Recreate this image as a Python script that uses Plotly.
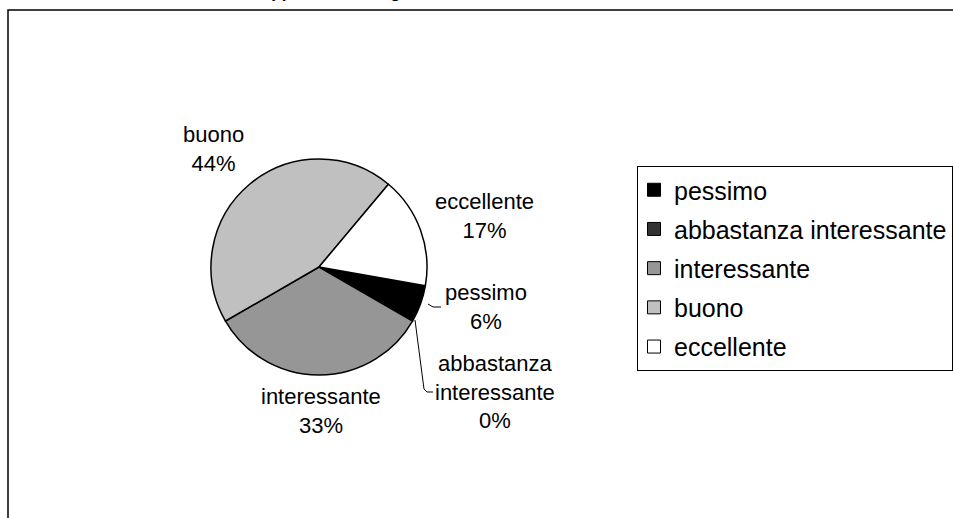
import plotly.graph_objects as go

labels = ["pessimo", "abbastanza interessante", "interessante", "buono", "eccellente"]
counts = [1, 0, 6, 8, 3]
colors = ["#000000", "#333333", "#969696", "#c0c0c0", "#ffffff"]
title_text = "Apprezzamento generale"

W, H = 953, 518
FONT = "Arial, Liberation Sans, sans-serif"


def px(x, y):
    # pixel position -> paper coords (margins are zero)
    return x / W, 1 - y / H


total = sum(counts)
pct = [round(100 * c / total) for c in counts]

fig = go.Figure()

cx, cy, r = 319, 267, 108
fig.add_trace(go.Pie(
    labels=labels, values=counts, sort=False, direction="clockwise",
    rotation=100, textinfo="none", showlegend=False, hoverinfo="label+percent",
    marker=dict(colors=colors, line=dict(color="black", width=1.5)),
    domain=dict(x=[(cx - r) / W, (cx + r) / W], y=[(H - cy - r) / H, (H - cy + r) / H]),
))

# legend entries, one group each so the spacing can be opened up
for i, (lab, col) in enumerate(zip(labels, colors)):
    fig.add_trace(go.Scatter(
        x=[None], y=[None], mode="markers", name=lab, legendgroup=str(i),
        marker=dict(symbol="square", size=13, color=col, line=dict(color="black", width=1)),
    ))

# data labels next to the slices
label_pos = [(486, 307), (495, 392), (321, 411), (213, 149), (484, 216)]
for lab, p, (x, y) in zip(labels, pct, label_pos):
    ax, ay = px(x, y)
    fig.add_annotation(
        x=ax, y=ay, xref="paper", yref="paper", xanchor="center", yanchor="middle",
        showarrow=False, text=lab.replace(" ", "<br>") + "<br>" + str(p) + "%", align="center",
        font=dict(family=FONT, size=22, color="black"),
    )

# leader lines for the two small slices
def path(points):
    s = ""
    for k, (x, y) in enumerate(points):
        a, b = px(x, y)
        s += ("M" if k == 0 else " L") + f"{a:.5f},{b:.5f}"
    return s

fig.add_shape(type="path", xref="paper", yref="paper",
              path=path([(428, 304), (433, 307), (441, 307)]),
              line=dict(color="black", width=1))
fig.add_shape(type="path", xref="paper", yref="paper",
              path=path([(415, 320), (424, 389), (427, 392), (433, 392)]),
              line=dict(color="black", width=1))

# chart area border (runs off the right and bottom edges)
x0, y0 = px(8, 10)
fig.add_shape(type="rect", xref="paper", yref="paper", x0=x0, y0=-0.02, x1=1.02, y1=y0,
              line=dict(color="black", width=1.5))

# title, mostly cut off at the top
tx, ty = px(257, -8)
fig.add_annotation(x=tx, y=ty, xref="paper", yref="paper", xanchor="left", yanchor="middle",
                   showarrow=False, text="<b>" + title_text + "</b>",
                   font=dict(family=FONT, size=17, color="black"))

lx, ly = px(637, 166)
fig.update_layout(
    width=W, height=H, margin=dict(l=0, r=0, t=0, b=0),
    paper_bgcolor="white", plot_bgcolor="white",
    xaxis=dict(visible=False), yaxis=dict(visible=False),
    legend=dict(x=lx, y=ly, xanchor="left", yanchor="top", bgcolor="white",
                bordercolor="black", borderwidth=1, tracegroupgap=3.7, indentation=-4,
                font=dict(family=FONT, size=25, color="black")),
)

fig.write_html("out.html", config={"displayModeBar": False},
               post_script="document.body.style.margin='0px';")
